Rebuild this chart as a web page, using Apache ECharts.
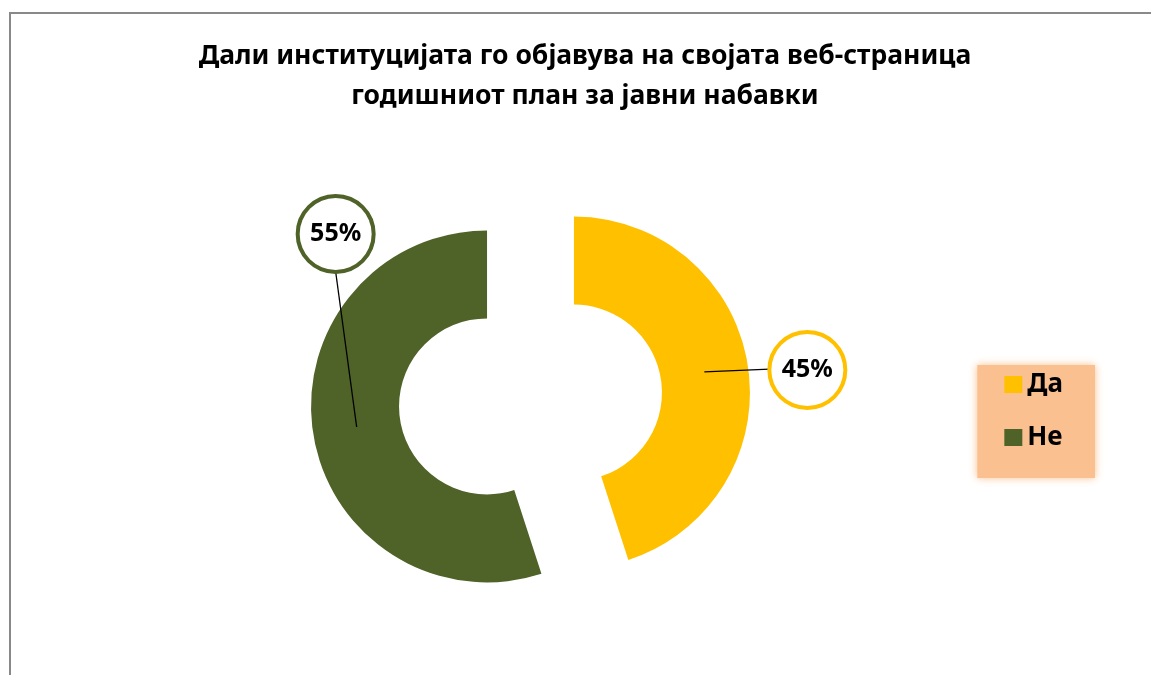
<!DOCTYPE html>
<html>
<head>
<meta charset="utf-8">
<script src="https://cdn.jsdelivr.net/npm/echarts@6/dist/echarts.min.js"></script>
<style>html,body{margin:0;padding:0;background:#fff}#c{width:1151px;height:675px}</style>
</head>
<body>
<div id="c"></div>
<script>
const categories = ['Да', 'Не'];
const values = [45, 55];
const colors = ['#FFC000', '#4F6228'];
const titleText = 'Дали институцијата го објавува на својата веб-страница\nгодишниот план за јавни набавки';

const chart = echarts.init(document.getElementById('c'));
const FONT = 'Noto Sans';
const ringData = categories.map((c, i) => ({ name: c, value: values[i], selected: true, itemStyle: { color: colors[i] } }));
const labelData = categories.map((c, i) => ({
  name: c, value: values[i],
  label: { borderColor: colors[i] }
}));

// label offsets relative to leader anchor (mid-ring of exploded slice)
const labelOffset = [[103, -2], [-21, -193]];
const lineEndOffset = [[71, -3], [-23, -170]];

chart.setOption({
  animation: false,
  backgroundColor: '#fff',
  legend: {
    orient: 'vertical',
    data: categories,
    right: 56,
    top: 365,
    icon: 'rect',
    itemWidth: 18,
    itemHeight: 17,
    itemGap: 23,
    padding: [4.5, 32, 25.5, 27],
    backgroundColor: '#FAC090',
    shadowBlur: 8,
    shadowColor: '#FAC090',
    selectedMode: false,
    textStyle: { fontFamily: FONT, fontWeight: 'bold', fontSize: 26, lineHeight: 30, color: '#000' }
  },
  graphic: [{
    type: 'rect', silent: true, z: -10,
    shape: { x: 10, y: 13, width: 1300, height: 800 },
    style: { fill: 'none', stroke: '#898989', lineWidth: 2 }
  }, {
    type: 'text', silent: true, z: 10,
    x: 585, y: 36,
    style: {
      text: titleText,
      align: 'center', verticalAlign: 'top',
      fontFamily: FONT, fontWeight: 'bold', fontSize: 26.5, lineHeight: 40, fill: '#000'
    }
  }],
  series: [{
    type: 'pie',
    center: [530.5, 399.5],
    radius: [88, 176],
    startAngle: 90,
    clockwise: true,
    selectedMode: 'multiple',
    selectedOffset: 44,
    emphasis: { disabled: true },
    label: { show: false },
    labelLine: { show: false },
    data: ringData
  }, {
    type: 'pie',
    center: [530.5, 399.5],
    radius: [88, 176],
    startAngle: 90,
    clockwise: true,
    emphasis: { disabled: true },
    silent: true,
    z: 5,
    itemStyle: { color: 'rgba(0,0,0,0)' },
    label: {
      show: true,
      position: 'outside',
      formatter: '{c}%',
      fontFamily: FONT, fontWeight: 'bold', fontSize: 25, color: '#000',
      backgroundColor: '#fff',
      borderWidth: 4,
      width: 72, height: 72, lineHeight: 72,
      borderRadius: 40,
      align: 'center', verticalAlign: 'middle'
    },
    labelLine: { show: true, length: 10, length2: 10, lineStyle: { color: '#000', width: 1.3 } },
    labelLayout: function (p) {
      const pts = p.labelLinePoints;
      if (!pts) return {};
      const a = pts[0];
      const lo = labelOffset[p.dataIndex];
      const le = lineEndOffset[p.dataIndex];
      const end = [a[0] + le[0], a[1] + le[1]];
      return {
        x: a[0] + lo[0], y: a[1] + lo[1],
        align: 'center', verticalAlign: 'middle',
        labelLinePoints: [a, end, end]
      };
    },
    data: labelData
  }]
});
</script>
</body>
</html>
